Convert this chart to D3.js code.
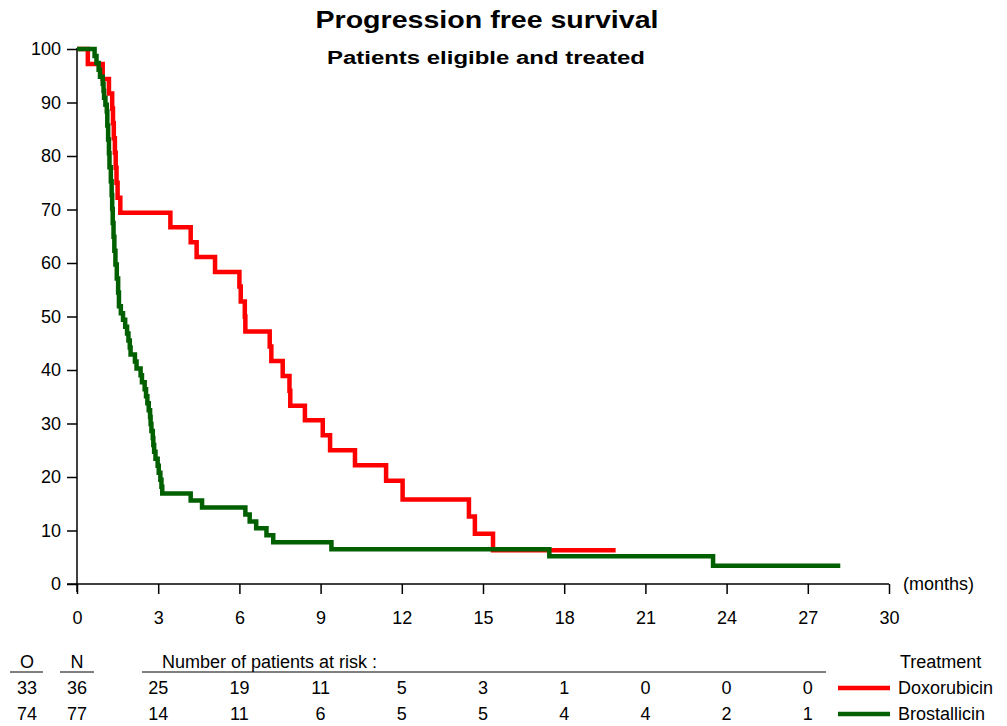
<!DOCTYPE html>
<html>
<head>
<meta charset="utf-8">
<script src="https://cdn.jsdelivr.net/npm/d3@7"></script>
<style>
  body { margin: 0; background: #fff; }
  text { font-family: "Liberation Sans Narrow", "Arial Narrow", "Liberation Sans", Arial, sans-serif; fill: #000; }
  .title { font-family: "Liberation Sans", Arial, sans-serif; font-weight: bold; }
</style>
</head>
<body>
<svg id="chart" width="1007" height="726"></svg>
<script>
// Kaplan-Meier steps: [month, % progression free]
const doxoTimes = [0, 0.4, 0.95, 1.18, 1.3, 1.33, 1.36, 1.4, 1.43, 1.46, 1.5, 1.6, 3.45, 4.2, 4.42, 5.1, 6.0, 6.05, 6.2, 6.22,
    7.12, 7.18, 7.6, 7.85, 7.88, 8.42, 9.08, 9.35, 10.27, 11.42, 12.03, 14.48, 14.7, 15.37, 19.9]
const doxoSurv = [100, 97.2, 94.4, 91.7, 88.9, 86.1, 83.3, 80.6, 77.8, 75.0, 72.2, 69.4, 66.7, 63.9, 61.1, 58.3, 55.6, 52.8, 50.0, 47.2,
    44.4, 41.7, 38.9, 36.1, 33.3, 30.6, 27.8, 25.0, 22.2, 19.3, 15.8, 12.6, 9.4, 6.3, 6.3]

const brostTimes = [0, 0.65, 0.72, 0.8, 0.85, 0.95, 0.98, 1.0, 1.05, 1.1, 1.12, 1.15, 1.18, 1.2, 1.25, 1.28, 1.3, 1.32, 1.35, 1.38,
    1.42, 1.47, 1.52, 1.55, 1.62, 1.7, 1.78, 1.85, 1.9, 1.95, 1.98, 2.14, 2.2, 2.35, 2.4, 2.5, 2.55, 2.6, 2.65, 2.7,
    2.72, 2.75, 2.8, 2.82, 2.85, 2.9, 2.98, 3.02, 3.08, 3.12, 3.15, 4.2, 4.62, 6.22, 6.38, 6.62, 7.0, 7.25, 9.4, 17.45,
    23.5, 28.2]
const brostSurv = [100, 98.7, 97.4, 96.1, 94.8, 93.5, 92.2, 90.9, 89.6, 88.3, 85.7, 83.1, 80.5, 77.9, 75.3, 72.7, 70.1, 67.5, 64.9, 62.3,
    59.7, 57.1, 54.5, 51.9, 50.6, 49.4, 48.1, 46.8, 45.5, 44.2, 42.9, 41.6, 40.3, 39.0, 37.7, 36.4, 35.1, 33.8, 32.5, 31.2,
    29.9, 28.6, 27.3, 26.0, 24.7, 23.4, 22.1, 20.8, 19.5, 18.2, 16.9, 15.6, 14.3, 13.0, 11.7, 10.4, 9.1, 7.8, 6.5, 5.2,
    3.4, 3.4]

const xTicks = [0, 3, 6, 9, 12, 15, 18, 21, 24, 27, 30]
const yTicks = [0, 10, 20, 30, 40, 50, 60, 70, 80, 90, 100]

const riskMonths = [3, 6, 9, 12, 15, 18, 21, 24, 27]
const doxoRisk = [25, 19, 11, 5, 3, 1, 0, 0, 0]
const brostRisk = [14, 11, 6, 5, 5, 4, 4, 2, 1]

const groups = ["Doxorubicin", "Brostallicin"]
const observed = [33, 74]
const numbers = [36, 77]
const colors = ["#ff0000", "#006000"]

const svg = d3.select("#chart")

const x = d3.scaleLinear().domain([0, 30]).range([77, 889])
const y = d3.scaleLinear().domain([0, 100]).range([584, 49])

// titles
svg.append("text").attr("class", "title")
    .attr("x", 487).attr("y", 28).attr("text-anchor", "middle")
    .attr("font-size", 24).attr("textLength", 343).attr("lengthAdjust", "spacingAndGlyphs")
    .text("Progression free survival")
svg.append("text").attr("class", "title")
    .attr("x", 486).attr("y", 64).attr("text-anchor", "middle")
    .attr("font-size", 18).attr("textLength", 318).attr("lengthAdjust", "spacingAndGlyphs")
    .text("Patients eligible and treated")

// axes
const yAxis = svg.append("g")
    .attr("transform", `translate(${x(0)},0)`)
    .call(d3.axisLeft(y).tickValues(yTicks).tickSize(10).tickSizeOuter(0).tickPadding(6))
const xAxis = svg.append("g")
    .attr("transform", `translate(0,${y(0)})`)
    .call(d3.axisBottom(x).tickValues(xTicks).tickSize(10).tickSizeOuter(0).tickPadding(17))

;[yAxis, xAxis].forEach(g => {
    g.select(".domain").remove()
    g.selectAll("line").attr("stroke", "#000").attr("stroke-width", 1.5)
    g.selectAll("text").attr("font-size", 18).style("font-family", null)
})
yAxis.attr("font-family", null)
xAxis.attr("font-family", null)

svg.append("line").attr("x1", x(0)).attr("x2", x(0)).attr("y1", y(100) - 1).attr("y2", y(0) + 8)
    .attr("stroke", "#000").attr("stroke-width", 1.5)
svg.append("line").attr("x1", x(0) - 10).attr("x2", x(30)).attr("y1", y(0)).attr("y2", y(0))
    .attr("stroke", "#000").attr("stroke-width", 1.5)

svg.append("text").attr("x", x(30) + 14).attr("y", y(0) + 6).attr("font-size", 18).text("(months)")

// curves
const line = d3.line()
    .x(d => x(d[0]))
    .y(d => y(d[1]))
    .curve(d3.curveStepAfter)

const series = [d3.zip(doxoTimes, doxoSurv), d3.zip(brostTimes, brostSurv)]

series.forEach((pts, i) => {
    svg.append("path")
        .datum(pts)
        .attr("d", line)
        .attr("fill", "none")
        .attr("stroke", colors[i])
        .attr("stroke-width", 4.5)
        .attr("stroke-linejoin", "miter")
})

// at-risk table
const rowY = [694, 720]
const table = svg.append("g").attr("font-size", 18)

table.append("text").attr("x", 27).attr("y", 668).attr("text-anchor", "middle").text("O")
table.append("text").attr("x", 77).attr("y", 668).attr("text-anchor", "middle").text("N")
table.append("text").attr("x", 162).attr("y", 668).text("Number of patients at risk :")
table.append("line").attr("x1", 10).attr("x2", 43).attr("y1", 672).attr("y2", 672).attr("stroke", "#000")
table.append("line").attr("x1", 60).attr("x2", 94).attr("y1", 672).attr("y2", 672).attr("stroke", "#000")
table.append("line").attr("x1", 142).attr("x2", 826).attr("y1", 672).attr("y2", 672).attr("stroke", "#000")

const risks = [doxoRisk, brostRisk]
groups.forEach((g, i) => {
    table.append("text").attr("x", 27).attr("y", rowY[i]).attr("text-anchor", "middle").text(observed[i])
    table.append("text").attr("x", 77).attr("y", rowY[i]).attr("text-anchor", "middle").text(numbers[i])
    table.selectAll(null)
        .data(riskMonths)
        .enter()
        .append("text")
        .attr("x", d => x(d))
        .attr("y", rowY[i])
        .attr("text-anchor", "middle")
        .text((d, j) => risks[i][j])

    table.append("line")
        .attr("x1", 838).attr("x2", 890)
        .attr("y1", rowY[i] - 6).attr("y2", rowY[i] - 6)
        .attr("stroke", colors[i]).attr("stroke-width", 4.5)
    table.append("text").attr("x", 898).attr("y", rowY[i]).text(g)
})
table.append("text").attr("x", 900).attr("y", 668).text("Treatment")
</script>
</body>
</html>
